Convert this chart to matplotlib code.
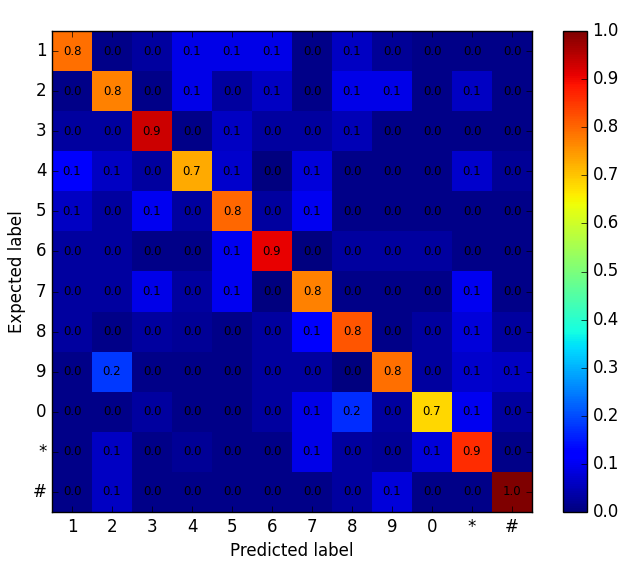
import numpy as np
import matplotlib
matplotlib.use('Agg')
import matplotlib.pyplot as plt

plt.style.use('classic')

labels = ['1', '2', '3', '4', '5', '6', '7', '8', '9', '0', '*', '#']

# row-normalised confusion values
row_1 = [0.79, 0.01, 0.03, 0.09, 0.09, 0.09, 0.01, 0.06, 0.02, 0.01, 0.01, 0.01]
row_2 = [0.01, 0.77, 0.01, 0.09, 0.03, 0.06, 0.01, 0.09, 0.09, 0.01, 0.06, 0.01]
row_3 = [0.03, 0.03, 0.93, 0.01, 0.06, 0.03, 0.03, 0.05, 0.01, 0.01, 0.01, 0.01]
row_4 = [0.11, 0.06, 0.03, 0.73, 0.07, 0.00, 0.08, 0.01, 0.01, 0.01, 0.07, 0.02]
row_5 = [0.06, 0.03, 0.10, 0.03, 0.80, 0.03, 0.10, 0.01, 0.01, 0.01, 0.01, 0.01]
row_6 = [0.03, 0.03, 0.01, 0.01, 0.10, 0.91, 0.00, 0.03, 0.03, 0.03, 0.01, 0.01]
row_7 = [0.03, 0.03, 0.09, 0.03, 0.10, 0.00, 0.77, 0.01, 0.01, 0.01, 0.10, 0.01]
row_8 = [0.03, 0.01, 0.03, 0.02, 0.01, 0.03, 0.11, 0.82, 0.01, 0.03, 0.08, 0.03]
row_9 = [0.01, 0.18, 0.01, 0.01, 0.01, 0.03, 0.03, 0.00, 0.79, 0.03, 0.07, 0.06]
row_0 = [0.01, 0.01, 0.03, 0.01, 0.01, 0.03, 0.09, 0.17, 0.03, 0.68, 0.10, 0.03]
row_star = [0.01, 0.06, 0.01, 0.02, 0.01, 0.01, 0.09, 0.03, 0.02, 0.08, 0.86, 0.01]
row_hash = [0.01, 0.06, 0.01, 0.01, 0.01, 0.01, 0.01, 0.03, 0.08, 0.01, 0.01, 1.00]

cm = np.array([row_1, row_2, row_3, row_4, row_5, row_6,
               row_7, row_8, row_9, row_0, row_star, row_hash])

fig = plt.figure(figsize=(6.26, 5.70), dpi=100, facecolor='white')
ax = fig.add_axes([52/626, 58/570, 480/626, 481/570])
cax = fig.add_axes([563/626, 58/570, 24/626, 481/570])

im = ax.imshow(cm, cmap='jet', vmin=0.0, vmax=1.0, interpolation='nearest', aspect='auto')
cb = fig.colorbar(im, cax=cax, ticks=np.arange(0, 1.01, 0.1))

for i in range(cm.shape[0]):
    for j in range(cm.shape[1]):
        ax.text(j, i, '%.1f' % cm[i, j], ha='center', va='center', fontsize=8.5, color='black')

ax.set_xticks(range(len(labels)))
ax.set_yticks(range(len(labels)))
ax.set_xticklabels(labels)
ax.set_yticklabels(labels)
ax.set_xlabel('Predicted label')
ax.set_ylabel('Expected label')

plt.savefig('out.png', dpi=100, facecolor='white')
